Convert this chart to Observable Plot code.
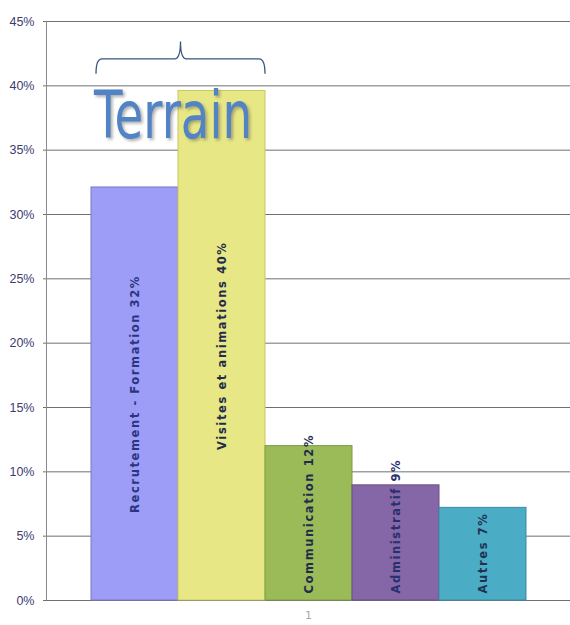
<!DOCTYPE html>
<html><head><meta charset="utf-8">
<script src="https://cdn.jsdelivr.net/npm/d3@7"></script>
<script src="https://cdn.jsdelivr.net/npm/@observablehq/plot@0.6"></script>
<style>body{margin:0;background:#fff}</style>
</head><body><div id="chart"></div>
<script>
const categories = ["Recrutement - Formation", "Visites et animations", "Communication", "Administratif", "Autres"];
const values = [32.1, 39.6, 12.0, 8.95, 7.2];
const labels = ["Recrutement - Formation 32%", "Visites et animations 40%", "Communication 12%", "Administratif 9%", "Autres 7%"];
const colors = ["#9d9df7", "#e8e785", "#9bbb59", "#8566a6", "#4bacc6"];
const strokes = ["#7878c8", "#c8c860", "#7f9c45", "#6a4f88", "#3a8ca3"];
const labelColors = ["#2a3580", "#1f2d4c", "#1f2d4c", "#26306e", "#1f3350"];
const yTicks = [0, 5, 10, 15, 20, 25, 30, 35, 40, 45];
const xTickLabels = ["1"];
const groupLabel = "Terrain";
const groupMembers = ["Recrutement - Formation", "Visites et animations"];
const braceLevels = {bottom: 40.9, middle: 42.05, top: 43.4};
const groupLabelLevel = 37.7;

const data = categories.map((c, i) => ({cat: c, v: values[i], label: labels[i], color: colors[i], stroke: strokes[i], lc: labelColors[i]}));

function axisLine(index, scales, vals, dims) {
  const ns = "http://www.w3.org/2000/svg";
  const l = document.createElementNS(ns, "line");
  l.setAttribute("x1", dims.marginLeft + 0.5);
  l.setAttribute("x2", dims.marginLeft + 0.5);
  l.setAttribute("y1", scales.y(45));
  l.setAttribute("y2", scales.y(0));
  l.setAttribute("stroke", "#8a8a8a");
  return l;
}

function groupAnnotation(index, scales, vals, dims) {
  const ns = "http://www.w3.org/2000/svg";
  const g = document.createElementNS(ns, "g");
  let bw = scales.x.bandwidth;
  if (typeof bw === "function") bw = bw.call(scales.x);
  if (!(bw > 0)) bw = (dims.width - dims.marginLeft - dims.marginRight) / 6;
  const x0 = scales.x(groupMembers[0]) + 5;
  const x1 = scales.x(groupMembers[groupMembers.length - 1]) + bw;
  const xm = (x0 + x1) / 2;
  const yb = scales.y(braceLevels.bottom), ym = scales.y(braceLevels.middle), yt = scales.y(braceLevels.top);
  const p = document.createElementNS(ns, "path");
  p.setAttribute("d", `M${x0},${yb} Q${x0},${ym} ${x0 + 6},${ym} L${xm - 6},${ym} Q${xm},${ym} ${xm},${yt} Q${xm},${ym} ${xm + 6},${ym} L${x1 - 6},${ym} Q${x1},${ym} ${x1},${yb}`);
  p.setAttribute("fill", "none");
  p.setAttribute("stroke", "#3a5580");
  p.setAttribute("stroke-width", "1.3");
  g.appendChild(p);
  const t = document.createElementNS(ns, "text");
  t.textContent = groupLabel;
  t.setAttribute("x", x0 - 2);
  t.setAttribute("y", scales.y(groupLabelLevel));
  t.setAttribute("dy", "0.35em");
  t.setAttribute("text-anchor", "start");
  t.setAttribute("font-family", "DejaVu Sans");
  t.setAttribute("font-size", "66");
  t.setAttribute("textLength", "158");
  t.setAttribute("lengthAdjust", "spacingAndGlyphs");
  t.setAttribute("fill", "#5283c4");
  t.setAttribute("style", "filter: drop-shadow(2px 2px 1.5px rgba(80,80,80,0.45))");
  g.appendChild(t);
  return g;
}

const chart = Plot.plot({
  width: 570,
  height: 625,
  marginLeft: 46,
  marginRight: 0,
  marginTop: 21,
  marginBottom: 25,
  x: {domain: categories, paddingInner: 0, paddingOuter: 0.5, axis: null},
  y: {domain: [0, 45], ticks: yTicks, axis: null},
  marks: [
    Plot.ruleY(yTicks, {stroke: "#707070", strokeWidth: 1}),
    Plot.axisY({ticks: yTicks, label: null, tickFormat: d => d + "%", tickSize: 3, tickPadding: 9, stroke: "#707070", color: "#3c3c70", fontSize: 12.5, fontFamily: "Liberation Sans"}),
    axisLine,
    Plot.barY(data, {x: "cat", y: "v", fill: "color", stroke: "stroke", strokeWidth: 1, inset: 0}),
    Plot.text(data.filter(d => d.v > 20), {x: "cat", y: d => d.v / 2, text: "label", rotate: -90, textAnchor: "middle", fill: "lc", fontSize: 11.5, fontWeight: "bold", fontFamily: "DejaVu Sans"}),
    Plot.text(data.filter(d => d.v <= 20), {x: "cat", y: 0.55, text: "label", rotate: -90, textAnchor: "start", fill: "lc", fontSize: 11.5, fontWeight: "bold", fontFamily: "DejaVu Sans"}),
    Plot.text(xTickLabels, {text: d => d, frameAnchor: "bottom", dy: 18, fill: "#a8a8a8", fontSize: 11, fontFamily: "DejaVu Sans"}),
    groupAnnotation
  ]
});
d3.select(chart).selectAll("text").filter(function() { return labels.includes(this.textContent); }).style("letter-spacing", "1.6px");
document.getElementById("chart").appendChild(chart);
</script>
</body></html>
